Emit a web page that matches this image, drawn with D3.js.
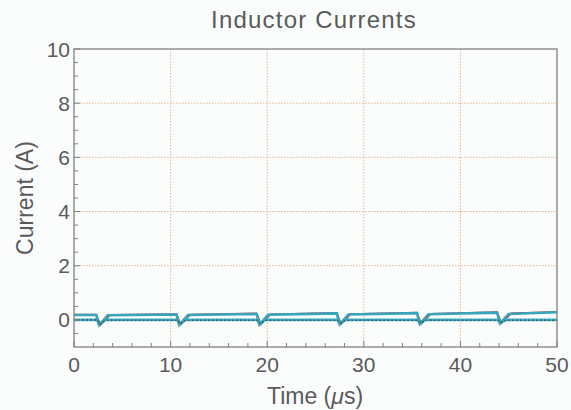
<!DOCTYPE html>
<html><head><meta charset="utf-8">
<script src="https://cdn.jsdelivr.net/npm/d3@7"></script>
<style>
html,body{margin:0;padding:0;background:#fbfdfd;}
text{font-family:"Liberation Sans",Arial,sans-serif;fill:#5a5a5a;}
</style></head>
<body><svg id="c" width="571" height="410"></svg>
<script>
// Data (time in µs, current in A)
const titleText = "Inductor Currents";
const xTicks = [0, 10, 20, 30, 40, 50];
const yTicks = [0, 2, 4, 6, 8, 10];
const xMinor = [2,4,6,8,12,14,16,18,22,24,26,28,32,34,36,38,42,44,46,48];
const yMinor = [-0.5,0.5,1,1.5,2.5,3,3.5,4.5,5,5.5,6.5,7,7.5,8.5,9,9.5];
const gridX = [10, 20, 30, 40];
const gridY = [2, 4, 6, 8];

const redT   = [0, 2.3, 2.75, 3.75, 10.6, 11.05, 12.05, 18.9, 19.35, 20.35, 27.2, 27.65, 28.65, 35.5, 35.95, 36.95, 43.8, 44.25, 45.25, 50];
const redI   = [0.2, 0.2, -0.19, 0.19, 0.22, -0.17, 0.2, 0.24, -0.16, 0.21, 0.26, -0.15, 0.22, 0.27, -0.14, 0.23, 0.29, -0.12, 0.24, 0.3];

const topT   = [0, 2.3, 2.6, 3.5, 10.6, 10.9, 11.8, 18.9, 19.2, 20.1, 27.2, 27.5, 28.4, 35.5, 35.8, 36.7, 43.8, 44.1, 45.0, 50];
const topI   = [0.18, 0.18, -0.19, 0.17, 0.2, -0.18, 0.18, 0.22, -0.17, 0.19, 0.24, -0.16, 0.2, 0.25, -0.15, 0.21, 0.27, -0.13, 0.22, 0.28];

const lowT   = [0, 2.4, 2.6, 3.2, 10.7, 10.9, 11.5, 19.0, 19.2, 19.8, 27.3, 27.5, 28.1, 35.6, 35.8, 36.4, 43.9, 44.1, 44.7, 50];
const lowI   = [0.0, 0.0, -0.17, 0.0, 0.0, -0.16, 0.0, 0.0, -0.15, 0.0, 0.0, -0.14, 0.0, 0.0, -0.13, 0.0, 0.0, -0.12, 0.0, 0.0];

const blkT   = [0, 2.4, 2.65, 3.3, 10.7, 10.95, 11.6, 19.0, 19.25, 19.9, 27.3, 27.55, 28.2, 35.6, 35.85, 36.5, 43.9, 44.15, 44.8, 50];
const blkI   = [0.0, 0.0, -0.15, -0.01, -0.01, -0.14, -0.01, -0.01, -0.13, -0.01, -0.01, -0.12, -0.01, -0.01, -0.11, -0.01, -0.01, -0.1, -0.01, -0.01];

const svg = d3.select("#c");
const m = {l:74, r:557, t:49, b:347};
const x = d3.scaleLinear().domain([0,50]).range([m.l, m.r]);
const y = d3.scaleLinear().domain([-1,10]).range([m.b, m.t]);

// grid
svg.append("g").selectAll("line").data(gridX).join("line")
  .attr("x1", d=>x(d)).attr("x2", d=>x(d)).attr("y1", m.t).attr("y2", m.b)
  .attr("stroke", "#eab48a").attr("stroke-width", 1).attr("stroke-dasharray", "1.5,1.5");
svg.append("g").selectAll("line").data(gridY).join("line")
  .attr("y1", d=>y(d)).attr("y2", d=>y(d)).attr("x1", m.l).attr("x2", m.r)
  .attr("stroke", "#eab48a").attr("stroke-width", 1).attr("stroke-dasharray", "1.5,1.5");

// series
const line = d3.line().x(d=>x(d[0])).y(d=>y(d[1]));
const z = (T,I)=>T.map((t,i)=>[t,I[i]]);
const g = svg.append("g");
g.append("path").attr("d", line(z(redT, redI))).attr("fill","none").attr("stroke","#c0302a").attr("stroke-width",1.6);
g.append("path").attr("d", line(z(lowT, lowI))).attr("fill","none").attr("stroke","#3fb0c6").attr("stroke-width",2.6);
g.append("path").attr("d", line(z(topT, topI))).attr("fill","none").attr("stroke","#36a6bd").attr("stroke-width",2.6);
g.append("path").attr("d", line(z(blkT, blkI))).attr("fill","none").attr("stroke","#2a3a40").attr("stroke-width",1).attr("stroke-dasharray","2,2");

// frame
svg.append("rect").attr("x", m.l).attr("y", m.t).attr("width", m.r-m.l).attr("height", m.b-m.t)
  .attr("fill","none").attr("stroke","#808080").attr("stroke-width",1.3);

// ticks
const tk = svg.append("g").attr("stroke","#808080").attr("stroke-width",1);
tk.selectAll(".xM").data(xTicks.concat(xMinor)).join("line")
  .attr("x1", d=>x(d)).attr("x2", d=>x(d)).attr("y1", m.b).attr("y2", d=> xTicks.includes(d)? m.b-6 : m.b-4);
tk.selectAll(".yM").data(yTicks.concat(yMinor)).join("line")
  .attr("y1", d=>y(d)).attr("y2", d=>y(d)).attr("x1", m.l).attr("x2", d=> yTicks.includes(d)? m.l+6 : m.l+4);

// tick labels
svg.append("g").selectAll("text").data(xTicks).join("text")
  .attr("x", d=>x(d)).attr("y", 372).attr("text-anchor","middle").attr("font-size",21).text(d=>d);
svg.append("g").selectAll("text").data(yTicks).join("text")
  .attr("x", 70).attr("y", d=>y(d)+7.5).attr("text-anchor","end").attr("font-size",21).text(d=>d);

// titles
svg.append("text").attr("x", 314).attr("y", 28).attr("text-anchor","middle").attr("font-size",24)
  .attr("letter-spacing", 1.2).text(titleText);
const xl = svg.append("text").attr("x", 315).attr("y", 404).attr("text-anchor","middle").attr("font-size",23);
xl.append("tspan").text("Time (");
xl.append("tspan").attr("font-style","italic").text("\u03bc");
xl.append("tspan").text("s)");
svg.append("text").attr("transform","translate(33,198) rotate(-90)").attr("text-anchor","middle").attr("font-size",23).text("Current (A)");
</script></body></html>
